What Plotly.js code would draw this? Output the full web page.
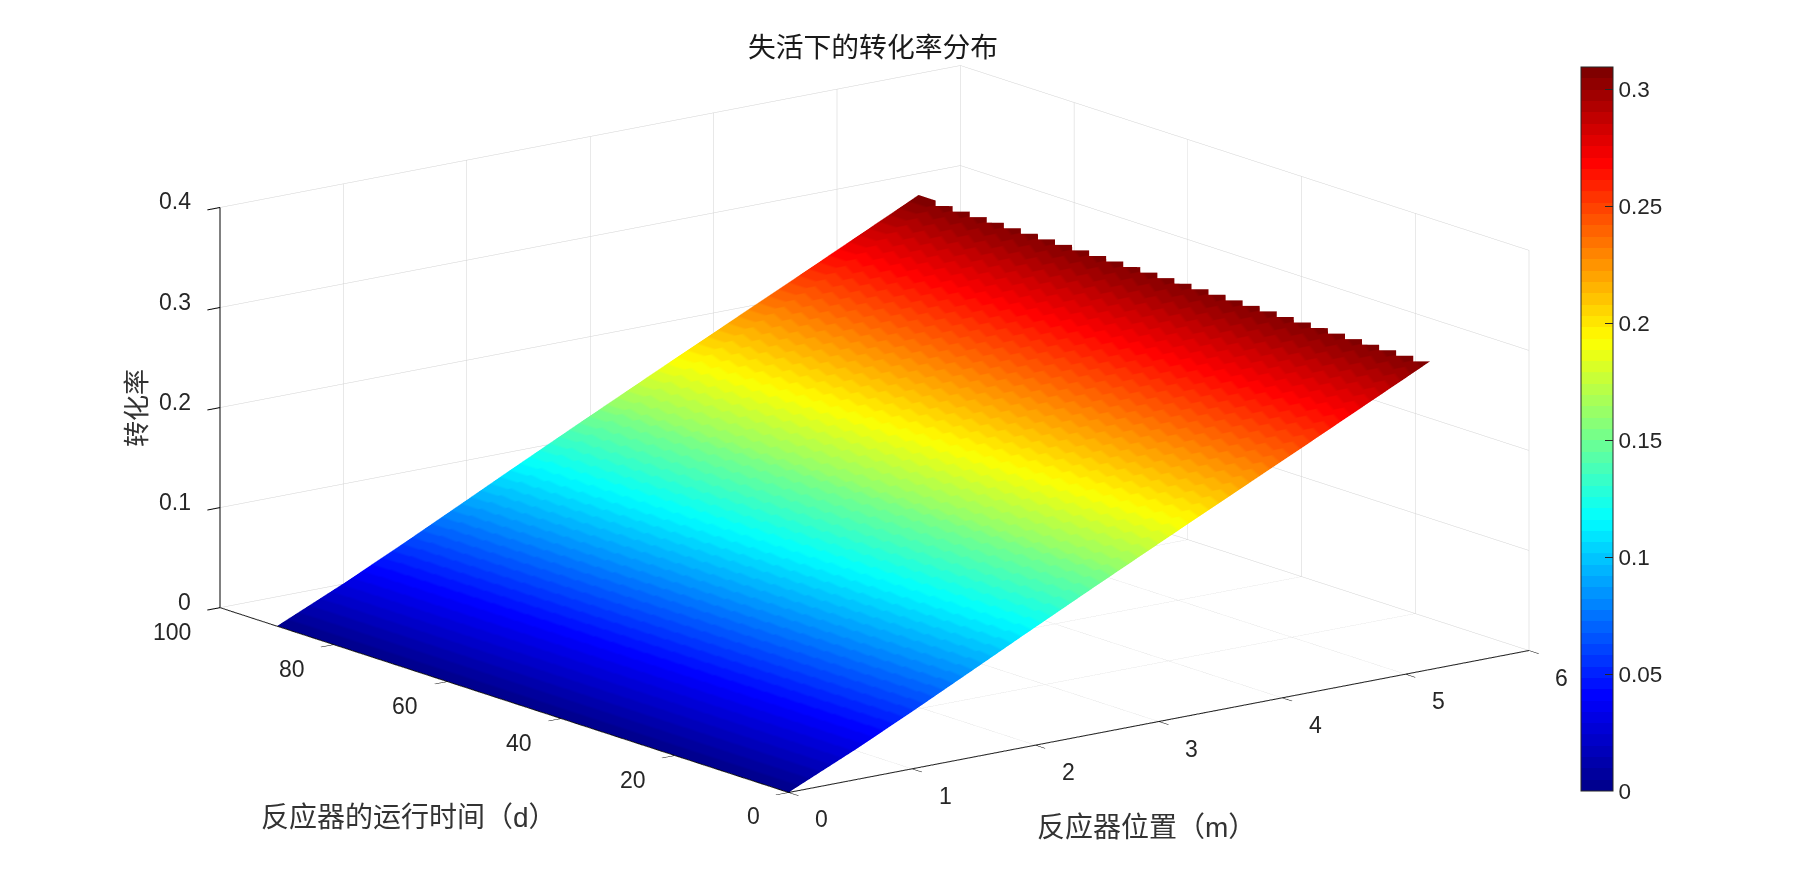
<!DOCTYPE html>
<html><head><meta charset="utf-8">
<script src="https://cdn.plot.ly/plotly-3.0.1.min.js"></script>
<style>html,body{margin:0;padding:0;background:#fff}#g{width:1807px;height:890px}</style>
</head><body><div id="g"></div>
<script>
// reactor position (m) and conversion read along the day-0 edge
const positions = [0, 0.56, 1.05, 1.56, 1.87, 2.45, 3.24, 4.15, 5.0, 5.2];
const conversion = [0, 0.031, 0.060, 0.091, 0.110, 0.145, 0.192, 0.2455, 0.296, 0.308];
// running time (d): 3-day cells; the step
const days = [0,2.99,3,5.99,6,8.99,9,11.99,12,14.99,15,17.99,18,20.99,21,23.99,24,26.99,27,29.99,30,32.99,33,35.99,36,38.99,39,41.99,42,44.99,45,47.99,48,50.99,51,53.99,54,56.99,57,59.99,60,62.99,63,65.99,66,68.99,69,71.99,72,74.99,75,77.99,78,80.99,81,83.99,84,86.99,87,89.99,90,90.01,90.02];
const edgeStep = [0,-.0055,0,-.0055,0,-.0055,0,-.0055,0,-.0055,0,-.0055,0,-.0055,0,-.0055,0,-.0055,0,-.0055,0,-.0055,0,-.0055,0,-.0055,0,-.0055,0,-.0055,0,-.0055,0,-.0055,0,-.0055,0,-.0055,0,-.0055,0,-.0055,0,-.0055,0,-.0055,0,-.0055,0,-.0055,0,-.0055,0,-.0055,0,-.0055,0,-.0055,0,0,0];
const xTicks = [0,1,2,3,4,5,6];
const yTicks = [0,20,40,60,80,100];
const zTicks = [0,0.1,0.2,0.3,0.4];
const cbTicks = [0,0.05,0.1,0.15,0.2,0.25,0.3];
const cbLabels = ['0','0.05','0.1','0.15','0.2','0.25','0.3'];
const zMax = 0.3094;
const jetAnchors = [[0,[0,0,143]],[0.125,[0,0,255]],[0.375,[0,255,255]],[0.625,[255,255,0]],[0.875,[255,0,0]],[1,[128,0,0]]];

function jetAt(t){
  for(let i=1;i<jetAnchors.length;i++){
    if(t<=jetAnchors[i][0]){
      const [a,ca]=jetAnchors[i-1],[b,cb]=jetAnchors[i],f=(t-a)/(b-a);
      return 'rgb('+ca.map((v,k)=>Math.round(v+(cb[k]-v)*f)).join(',')+')';
    }
  }
  return 'rgb(128,0,0)';
}
const levels=64, colorscale=[];
for(let i=0;i<levels;i++){
  const c=jetAt(i/(levels-1));
  colorscale.push([i/levels,c]);
  colorscale.push([(i+1)/levels-(i<levels-1?1e-4:0),c]);
}
const edgeTop=conversion[conversion.length-1];
const zGrid=days.map((d,i)=>conversion.map(c=>c+edgeStep[i]*c/edgeTop));

const font='"Liberation Sans",Arial,sans-serif';
const cjk='"Liberation Sans","Noto Sans CJK SC",sans-serif';
const tickFont={family:font,size:23,color:'#262626'};
const cbFont={family:font,size:22.5,color:'#262626'};
const label=(x,y,z,text,xanchor,xshift,yshift)=>({x,y,z,text:String(text),showarrow:false,font:tickFont,xanchor,yanchor:'middle',xshift,yshift});
const sceneNotes=[
  ...xTicks.map(v=>label(v,0,0,v,'center',33,-27)),
  ...yTicks.map(v=>label(0,v,0,v,'right',-27,-24)),
  ...zTicks.map(v=>label(0,100,v,v,'right',-27,6))
];
const axis=(range,tickvals)=>({range,autorange:false,tickmode:'array',tickvals,showticklabels:false,ticks:'outside',ticklen:16,tickcolor:'#000',tickwidth:2,
  showgrid:true,gridcolor:'#d2d2d2',gridwidth:1,zeroline:false,showline:true,linecolor:'#000',linewidth:2,showbackground:false,showspikes:false,title:{text:''}});
const R=3;
const S=2.176;
const layout={
  width:1807,height:890,margin:{l:0,r:0,t:0,b:0},paper_bgcolor:'#fff',showlegend:false,
  title:{text:'失活下的转化率分布',x:873/1807,xanchor:'center',xref:'paper',y:1-47/890,yanchor:'middle',yref:'paper',font:{family:cjk,size:27.8,color:'#1a1a1a'}},
  scene:{
    domain:{x:[0,1749/1807],y:[1-858/890,1]},
    aspectmode:'manual',aspectratio:{x:S,y:S,z:0.4427*S},
    camera:{projection:{type:'orthographic'},up:{x:0,y:0,z:1},center:{x:0,y:0,z:0},eye:{x:-0.609*R,y:-0.793*R,z:0.2578*R}},
    xaxis:axis([0,6],xTicks),yaxis:axis([0,100],yTicks),zaxis:axis([0,0.4],zTicks),
    annotations:sceneNotes
  },
  annotations:[
    {xref:'paper',yref:'paper',x:409/1807,y:1-817/890,text:'反应器的运行时间（d）',showarrow:false,font:{family:cjk,size:28,color:'#333'},xanchor:'center',yanchor:'middle'},
    {xref:'paper',yref:'paper',x:1146/1807,y:1-827/890,text:'反应器位置（m）',showarrow:false,font:{family:cjk,size:28,color:'#333'},xanchor:'center',yanchor:'middle'},
    {xref:'paper',yref:'paper',x:137/1807,y:1-408/890,text:'转化率',textangle:-90,showarrow:false,font:{family:cjk,size:26,color:'#333'},xanchor:'center',yanchor:'middle'}
  ]
};
const trace={type:'surface',x:positions,y:days,z:zGrid,cmin:0,cmax:zMax,colorscale,hoverinfo:'skip',
  lighting:{ambient:1,diffuse:0,specular:0,fresnel:0,roughness:1},
  contours:{x:{show:false},y:{show:false},z:{show:false}},
  colorbar:{xref:'paper',yref:'paper',x:1581/1807,xanchor:'left',xpad:0,ypad:0,y:1-67/890,yanchor:'top',thickness:32,thicknessmode:'pixels',len:724,lenmode:'pixels',
    outlinecolor:'#262626',outlinewidth:1,borderwidth:0,tickmode:'array',tickvals:cbTicks,ticktext:cbLabels,ticks:'inside',ticklen:8,tickcolor:'#262626',tickwidth:1,tickfont:cbFont}
};
Plotly.newPlot('g',[trace],layout,{displayModeBar:false});
</script></body></html>
